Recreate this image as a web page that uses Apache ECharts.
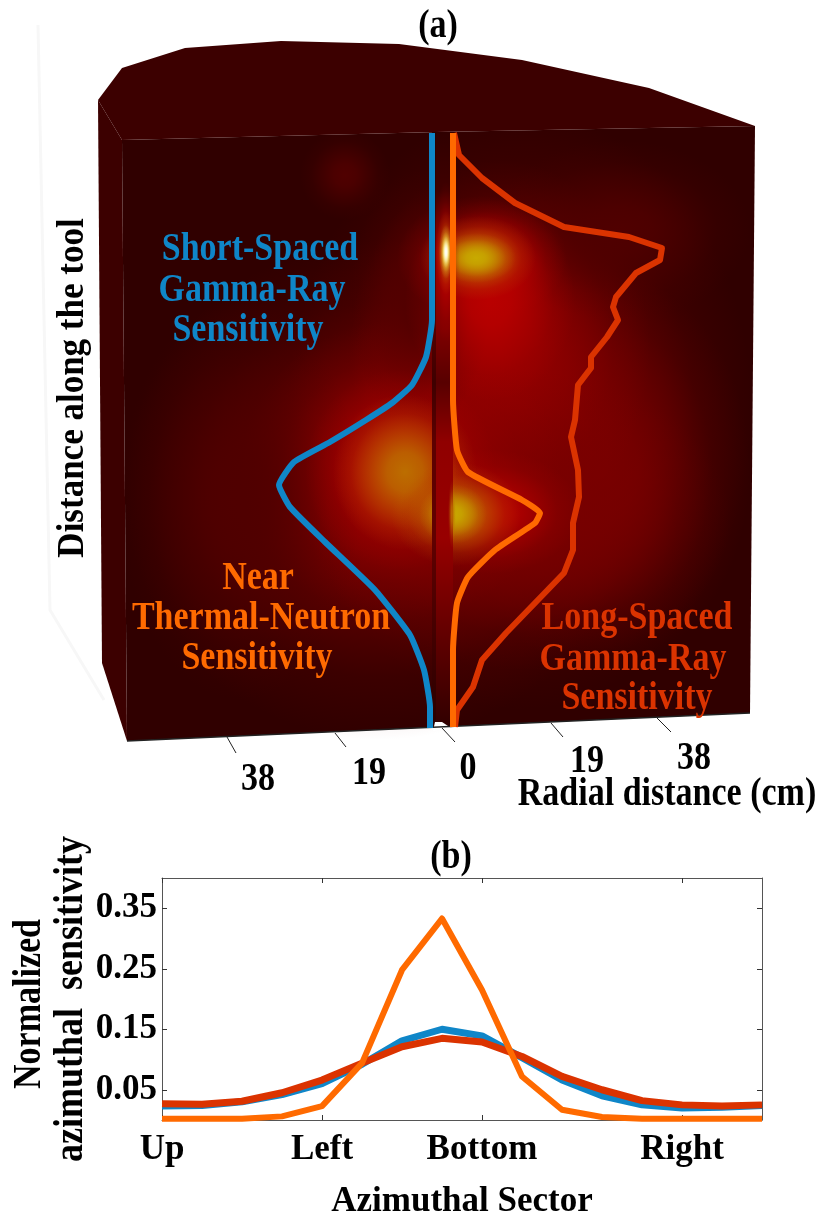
<!DOCTYPE html>
<html>
<head>
<meta charset="utf-8">
<style>html,body{margin:0;padding:0;background:#fff}#c{width:825px;height:1216px}</style>
<script src="https://cdn.jsdelivr.net/npm/echarts@6/dist/echarts.min.js"></script>
</head>
<body>
<div id="c"></div>
<script>
// ---------- panel (b) data ----------
var sectors = ['Up','','','','Left','','','','Bottom','','','','','Right','',''];
var yTicks = [0.05,0.15,0.25,0.35];
var shortGamma = [0.023,0.024,0.030,0.042,0.060,0.092,0.131,0.150,0.139,0.103,0.066,0.040,0.025,0.020,0.021,0.024];
var longGamma  = [0.027,0.026,0.031,0.045,0.066,0.094,0.121,0.135,0.129,0.105,0.072,0.050,0.032,0.025,0.023,0.025];
var nearNeutron= [0.002,0.002,0.002,0.006,0.023,0.094,0.248,0.333,0.215,0.072,0.017,0.005,0.002,0.002,0.002,0.002];

// ---------- panel (a) curves, read in picture units ----------
var shortCurve = [[432,133],[432,250],[432,320],[426,357],[412,385],[392,403],[366,420],[330,442],[294,462],[279,485],[290,507],[325,542],[375,590],[410,635],[424,670],[430,707],[430,728]];
var nearCurve  = [[453,133],[453,300],[453,400],[457,450],[468,472],[522,500],[540,513],[535,523],[495,550],[468,577],[457,603],[453,650],[453,727]];
var longCurve  = [[454,133],[459,155],[482,178],[515,203],[564,227],[629,237],[662,248],[660,260],[636,273],[616,297],[613,307],[618,320],[607,337],[591,357],[591,368],[578,385],[575,420],[571,437],[578,470],[579,497],[573,523],[573,550],[564,573],[535,603],[506,633],[482,660],[473,687],[457,710],[455,727]];

// ---------- panel (a) solid ----------
var topFace   = [[98,100],[122,68],[185,48],[281,41],[399,44],[522,60],[649,88],[755,126],[437,132],[122,140]];
var leftFace  = [[98,100],[122,140],[127,741],[102,663]];
var frontFace = [[122,140],[437,132],[755,126],[750,713],[127,741]];
var toolStrip = [[432,132],[453,132],[453,727],[432,728]];
var toolEdge  = [[432,132],[436,132],[436,728],[432,728]];
var notch     = [[433,731],[435,722],[442,722],[451,728]];
var bottomEdge= [[127,741],[750,713]];
var ghostEdge = [[38,25],[50,610],[104,700]];

// glow patches of the sensitivity map: x, y, radius x, radius y, level
var hot = [[80,0,0],[120,0,0],[150,0,0],[185,0,0],[188,110,0],[200,170,0],[255,240,80],[255,255,255]];
var glowBase = [
  [520,410,232,300,1],[600,470,150,200,1],[380,490,255,250,1],[500,350,150,190,2],[520,520,210,150,1],
  [400,470,160,150,2],[420,300,70,130,0],[620,230,130,90,0],[345,175,45,45,0],[240,500,120,200,0]
];
var glowPeak = [
  [400,470,95,100,3],[405,472,72,78,4],[490,300,85,100,3],[482,258,85,62,3],[478,258,58,42,4],[476,258,40,25,5],
  [490,512,90,62,3],[456,514,65,52,4],[453,514,34,30,5]
];
var glowTool = [
  [452,514,4,34,4],
  [446,262,14,80,3],[446,253,10,42,4],[446,252,7,27,6],[446,252,4,16,7]
];

// ---------- radial distance ticks ----------
var tickStart = [[227,737],[335,733],[442,728],[551,723],[657,718]];
var tickEnd   = [[236,753],[346,747],[455,742],[563,737],[671,732]];
var radialLabels = ['38','19','0','19','38'];
var radialLabelPos = [[258,780],[369,774],[468,769],[587,762],[694,759]];

var serif = '"Liberation Serif","Times New Roman",serif';
var cBlue='#0F86C8', cOrange='#FF6A00', cRed='#DB3300';
var TALL = 1.15;

function poly(name, pts, fill, z){
  return {type:'custom',name:name,xAxisIndex:0,yAxisIndex:0,z:z,silent:true,clip:false,data:[[0,0]],
    renderItem:function(p,api){return {type:'polygon',shape:{points:pts.map(function(q){return api.coord(q);})},style:{fill:fill}};}};
}
function glow(name, rows, z){
  return {type:'custom',name:name,xAxisIndex:0,yAxisIndex:0,z:z,silent:true,clip:false,data:rows,
    encode:{x:0,y:1},
    renderItem:function(p,api){
      var c=api.coord([api.value(0),api.value(1)]);
      var rx=Math.abs(api.coord([api.value(0)+api.value(2),api.value(1)])[0]-c[0]);
      var ry=Math.abs(api.coord([api.value(0),api.value(1)+api.value(3)])[1]-c[1]);
      var k=hot[api.value(4)], s='rgba('+k.join(',')+',';
      return {type:'circle',x:c[0],y:c[1],scaleX:rx/ry,shape:{cx:0,cy:0,r:ry},style:{fill:{type:'radial',x:.5,y:.5,r:.5,global:false,colorStops:[
        {offset:0,color:s+'1)'},{offset:.25,color:s+'.85)'},{offset:.5,color:s+'.5)'},{offset:.75,color:s+'.16)'},{offset:1,color:s+'0)'}]}}};
    }};
}
function curve(name,pts,color,smooth,z){
  return {type:'line',name:name,xAxisIndex:0,yAxisIndex:0,data:pts,showSymbol:false,symbol:'none',smooth:smooth,z:z,silent:true,clip:false,
    lineStyle:{color:color,width:6,join:'round',cap:'butt'}};
}
function bline(name,vals,color,w,z){
  return {type:'line',name:name,xAxisIndex:1,yAxisIndex:1,data:vals,showSymbol:false,symbol:'none',z:z,silent:true,
    lineStyle:{color:color,width:w,join:'round'}};
}
function t(text,x,y,color,rot,size,sy){
  return {type:'text',x:x,y:y,rotation:rot||0,scaleY:sy||TALL,z:50,silent:true,style:{text:text,fill:color||'#000',fontFamily:serif,fontWeight:'bold',fontSize:size||34,align:'center',verticalAlign:'middle'}};
}

var chart = echarts.init(document.getElementById('c'),null,{renderer:'canvas',width:825,height:1216});
var showTick = function(i,v){return v!=='';};
var frame = {show:true,onZero:false,lineStyle:{color:'#555',width:1}};
chart.setOption({
  animation:false,
  backgroundColor:'#fff',
  grid:[
    {left:0,top:0,width:825,height:830,show:false,outerBoundsMode:'none'},
    {left:162,top:878,width:600,height:242,show:false,outerBoundsMode:'none'}
  ],
  xAxis:[
    {gridIndex:0,type:'value',min:0,max:825,show:false},
    {gridIndex:1,type:'category',data:sectors,boundaryGap:false,axisLine:frame,
      axisTick:{show:true,inside:true,length:5,alignWithLabel:true,interval:showTick,lineStyle:{color:'#333'}},
      axisLabel:{interval:showTick,margin:12,fontFamily:serif,fontWeight:'bold',fontSize:35,color:'#000'},
      splitLine:{show:false},
      name:'Azimuthal Sector',nameLocation:'middle',nameGap:64,
      nameTextStyle:{fontFamily:serif,fontWeight:'bold',fontSize:35,color:'#000'},
      nameMoveOverlap:false},
    {gridIndex:1,type:'category',data:sectors,position:'top',boundaryGap:false,axisLine:frame,
      axisTick:{show:true,inside:true,length:5,alignWithLabel:true,interval:showTick,lineStyle:{color:'#333'}},
      axisLabel:{show:false},splitLine:{show:false}}
  ],
  yAxis:[
    {gridIndex:0,type:'value',min:0,max:830,inverse:true,show:false},
    {gridIndex:1,type:'value',min:0,max:0.4,axisLine:frame,
      axisTick:{show:true,inside:true,length:5,customValues:yTicks,lineStyle:{color:'#333'}},
      axisLabel:{customValues:yTicks,margin:5,fontFamily:serif,fontWeight:'bold',fontSize:35,color:'#000',formatter:function(v){return v.toFixed(2);}},
      splitLine:{show:false}},
    {gridIndex:1,type:'value',min:0,max:0.4,position:'right',axisLine:frame,
      axisTick:{show:true,inside:true,length:5,customValues:yTicks,lineStyle:{color:'#333'}},
      axisLabel:{show:false},splitLine:{show:false}}
  ],
  series:[
    {type:'line',name:'ghost edge',xAxisIndex:0,yAxisIndex:0,data:ghostEdge,symbol:'none',silent:true,z:1,lineStyle:{color:'#f7f7f7',width:3}},
    poly('left face',leftFace,'#3c0000',2),
    poly('front face',frontFace,'#300000',2),
    glow('sensitivity base',glowBase,3),
    glow('sensitivity peak',glowPeak,4),
    {type:'custom',name:'tool strip',xAxisIndex:0,yAxisIndex:0,z:5,silent:true,clip:false,data:[[0,0]],
      renderItem:function(p,api){
        return {type:'polygon',shape:{points:toolStrip.map(function(q){return api.coord(q);})},
          style:{fill:{type:'linear',x:0,y:0,x2:0,y2:1,global:false,colorStops:[
            {offset:0,color:'#300000'},{offset:.1,color:'#400000'},{offset:.2,color:'#900000'},{offset:.33,color:'#800000'},
            {offset:.42,color:'#580000'},{offset:.52,color:'#900000'},{offset:.68,color:'#980000'},{offset:.85,color:'#600000'},{offset:1,color:'#300000'}]}}};
      }},
    poly('tool edge',toolEdge,'rgba(30,0,0,0.45)',6),
    glow('near-tool sensitivity',glowTool,7),
    poly('top face',topFace,'#3c0000',8),
    poly('notch',notch,'#ffffff',9),
    {type:'line',name:'bottom edge',xAxisIndex:0,yAxisIndex:0,data:bottomEdge,symbol:'none',silent:true,z:9,lineStyle:{color:'#222',width:1.5}},
    {type:'custom',name:'radial ticks',xAxisIndex:0,yAxisIndex:0,z:9,silent:true,clip:false,data:tickStart.map(function(s,i){return [s[0],s[1],tickEnd[i][0],tickEnd[i][1]];}),
      encode:{x:0,y:1},
      renderItem:function(p,api){
        var a=api.coord([api.value(0),api.value(1)]),b=api.coord([api.value(2),api.value(3)]);
        return {type:'line',shape:{x1:a[0],y1:a[1],x2:b[0],y2:b[1]},style:{stroke:'#222',lineWidth:1}};
      }},
    {type:'custom',name:'radial labels',xAxisIndex:0,yAxisIndex:0,z:9,silent:true,clip:false,data:radialLabelPos,
      encode:{x:0,y:1},
      renderItem:function(p,api){
        var a=api.coord([api.value(0),api.value(1)]);
        return {type:'text',x:a[0],y:a[1],scaleY:TALL,style:{text:radialLabels[p.dataIndex],fill:'#000',fontFamily:serif,fontWeight:'bold',fontSize:34,align:'center',verticalAlign:'middle'}};
      }},
    curve('Long-Spaced Gamma-Ray Sensitivity',longCurve,cRed,false,10),
    curve('Short-Spaced Gamma-Ray Sensitivity',shortCurve,cBlue,0.15,11),
    curve('Near Thermal-Neutron Sensitivity',nearCurve,cOrange,0.15,11),
    bline('Short-Spaced Gamma-Ray',shortGamma,cBlue,7,20),
    bline('Long-Spaced Gamma-Ray',longGamma,cRed,7,21),
    bline('Near Thermal-Neutron',nearNeutron,cOrange,6,22)
  ],
  graphic:{elements:[
    t('(a)',438,27),
    t('(b)',451,858),
    t('Distance along the tool',73,388,'#000',Math.PI/2,35,1.08),
    t('Radial distance (cm)',667,795),
    t('Short-Spaced',260,250,cBlue),
    t('Gamma-Ray',252,291,cBlue),
    t('Sensitivity',248,331,cBlue),
    t('Near',258,579,cOrange),
    t('Thermal-Neutron',261,619,cOrange),
    t('Sensitivity',257,659,cOrange),
    t('Long-Spaced',637,619,cRed),
    t('Gamma-Ray',633,660,cRed),
    t('Sensitivity',637,699,cRed),
    t('Normalized',30,1004,'#000',Math.PI/2),
    t('azimuthal  sensitivity',71,999,'#000',Math.PI/2,36)
  ]}
});
</script>
</body>
</html>
